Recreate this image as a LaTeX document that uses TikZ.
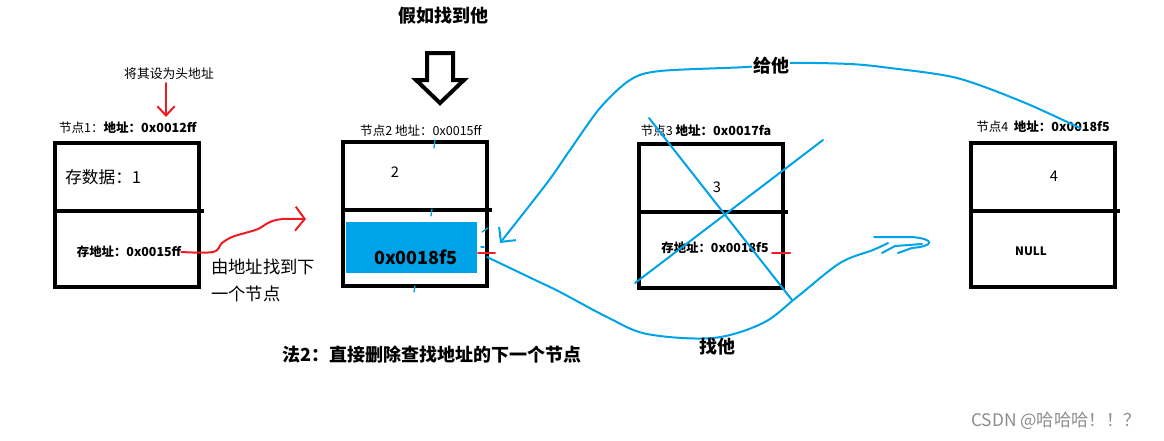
\documentclass[tikz,border=0pt]{standalone}
\usepackage{fontspec}
\setmainfont{Noto Sans CJK SC}
\usetikzlibrary{arrows.meta}
\definecolor{paintblue}{RGB}{0,162,232}
\definecolor{paintred}{RGB}{237,28,36}

\begin{document}
\begin{tikzpicture}[x=0.75pt,y=-0.75pt,
    cell/.style={draw, line width=3pt, minimum width=108pt, minimum height=108pt, inner sep=0pt},
    tag/.style={font=\fontsize{9.4}{11}\selectfont, inner sep=0pt},
    val/.style={font=\fontsize{11}{13}\selectfont, inner sep=0pt},
    note/.style={font=\fontsize{13}{20}\selectfont, inner sep=0pt},
    title/.style={font=\fontsize{13.5}{16}\selectfont\bfseries, inner sep=0pt},
    bluepen/.style={paintblue, line width=1.5pt, line cap=round, line join=round},
    redpen/.style={paintred, line width=1.5pt, line cap=round, line join=round}]
    \useasboundingbox (0,0) rectangle (1164,440);

    % the four nodes of the list
    \node[cell] (b1) at (127,215) {};
    \node[cell] (b2) at (415,214) {};
    \node[cell] (b3) at (711,216) {};
    \node[cell] (b4) at (1043,215) {};
    \foreach \b in {b1,b2,b3,b4}
        \draw[line width=2.6pt] ([yshift=3pt]\b.west) -- ([yshift=3pt,xshift=2pt]\b.east);

    % address labels above the boxes
    \node[tag] (lab1) at (128,128) {节点1：\textbf{地址：0x0012ff}};
    \node[tag] (lab2) at (421,131) {节点2 地址：0x0015ff};
    \node[tag] (lab3) at (706,131) {节点3 \textbf{地址：0x0017fa}};
    \node[tag] (lab4) at (1043,127) {节点4\ \ \textbf{地址：0x0018f5}};

    % contents
    \node[font=\fontsize{12.5}{15}\selectfont, inner sep=0pt, anchor=west] (d1) at (65,177) {存数据：1};
    \node[tag, font=\fontsize{9.3}{11}\selectfont\bfseries] (s1) at (129,252) {存地址：0x0015ff};
    \node[val] (d2) at (395,172) {2};
    \node[fill=paintblue, minimum width=98.25pt, minimum height=38.25pt, inner sep=0pt] (p2) at (411.5,247.5) {};
    \node[title] (s2) at (416,257) {0x0018f5};
    \node[val] (d3) at (717,187) {3};
    \node[tag, font=\fontsize{9.3}{11}\selectfont\bfseries] (s3) at (715,248) {存地址：0x0018f5};
    \node[val] (d4) at (1054,176) {4};
    \node[tag, font=\fontsize{8.7}{10}\selectfont\bfseries] (s4) at (1031,251) {NULL};

    % head pointer
    \node[tag, font=\fontsize{9.6}{11}\selectfont] (headtxt) at (169,74) {将其设为头地址};
    \coordinate (head1) at (166,117);
    \draw[redpen, -{Straight Barb[length=7pt,width=13pt]}] (headtxt.south -| head1) ++(0,3) -- (head1);

    % from node 1 to node 2
    \coordinate (nxt) at (306,219);
    \draw[redpen, -{Straight Barb[length=7pt,width=18pt]}] plot[smooth, tension=0.6] coordinates
        {(s1.east) (213,252) (222,243) (232,237) (245,233) (258,229) (270,222) (283,219) (nxt)};
    \node[note, anchor=north west, align=left] (how) at (211,259) {由地址找到下\\一个节点};

    % the found node
    \node[title] (found) at (443,16) {假如找到他};
    \draw[line width=3pt, line join=miter] (427,53) -- (453,53) -- (453,80) -- (464,80) -- (440,103)
        -- (416,80) -- (427,80) -- cycle;

    % node 3 is crossed out
    \draw[bluepen] (649,118) -- (792,300);
    \draw[bluepen] (635,283) -- (823,140);

    % small marks
    \draw[redpen] (478,253) -- (495,253);
    \draw[redpen] (772,253) -- (790,253);
    \draw[bluepen, line width=1pt] (435,140) -- (434,148);
    \draw[bluepen, line width=1pt] (432,209) -- (431,216);
    \draw[bluepen, line width=1pt] (482,232) -- (488,228);
    \draw[bluepen, line width=1pt] (481,247) -- (484,247);
    \draw[bluepen, line width=1pt] (415,286) -- (414,292);

    % give its address to node 2
    \coordinate (give4) at (1080,128);
    \coordinate (tip2) at (500,243);
    \draw[bluepen, -{Straight Barb[length=8pt,width=16pt]}] plot[smooth, tension=0.5] coordinates
        {(give4) (1023,102) (957,78) (890,68) (850,64) (790,63) (747,67) (660,71) (630,80)
         (600,108) (570,150) (547,183) (tip2)};
    \node[title, fill=white, inner sep=1pt] (give) at (771,66) {给他};

    % find node 4
    \coordinate (find2) at (487,257);
    \coordinate (find4) at (888,243);
    \draw[bluepen] plot[smooth, tension=0.55] coordinates
        {(find2) (533,279) (560,292) (607,317) (647,334) (713,338) (763,323) (797,297)
         (840,263) (873,250) (find4)};
    \draw[bluepen] (874,237) -- (912,237) .. controls (935,239) and (935,246) .. (912,248) -- (898,253);
    \draw[bluepen] (882,253) -- (895,246) -- (922,244);
    \node[title] (find) at (717,347) {找他};

    \node[title] (method) at (432,355) {法2：直接删除查找地址的下一个节点};
    \node[font=\fontsize{13}{15}\selectfont, text=black!45, inner sep=0pt] (mark) at (1056,421) {CSDN @哈哈哈！！？};
\end{tikzpicture}
\end{document}
